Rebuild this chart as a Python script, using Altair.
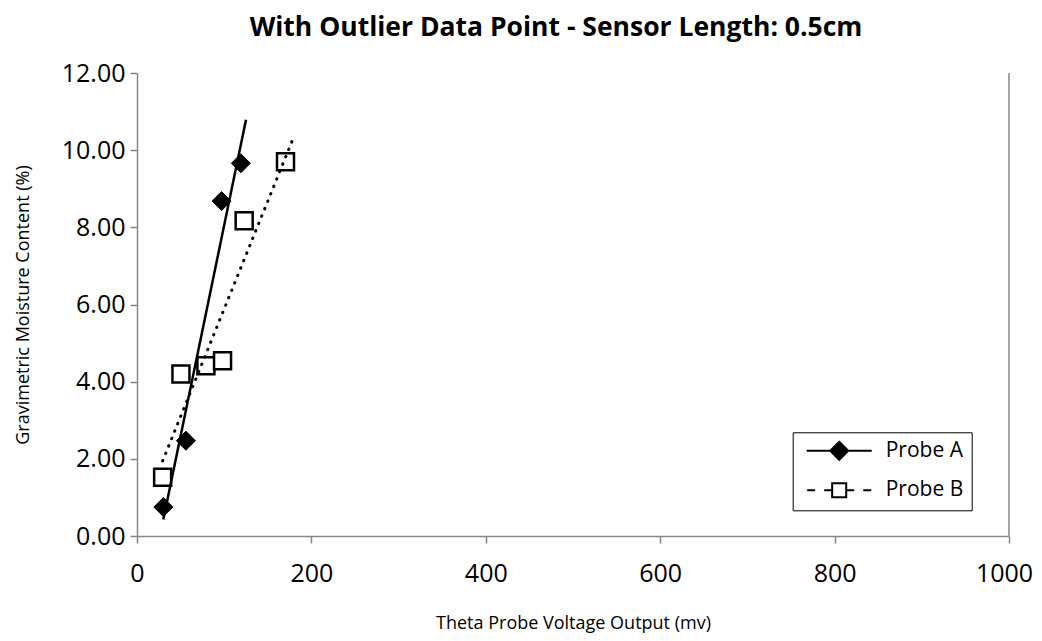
import altair as alt
import pandas as pd

# ---- data ----
probe_names = ["Probe A", "Probe B"]
probe_a_voltage = [30.2, 56.1, 97.0, 119.1]
probe_a_moisture = [0.75, 2.47, 8.68, 9.66]
probe_b_voltage = [29.4, 50.4, 79.0, 98.1, 122.9, 170.3]
probe_b_moisture = [1.52, 4.20, 4.41, 4.54, 8.17, 9.70]
trend_a_extent = [30.2, 125.0]
trend_b_extent = [29.4, 180.0]
x_ticks = [0, 200, 400, 600, 800, 1000]
y_ticks = [0, 2, 4, 6, 8, 10, 12]
x_domain = [0, 1000]
y_domain = [0, 12]

df = pd.concat([
    pd.DataFrame({"voltage": probe_a_voltage, "moisture": probe_a_moisture, "probe": probe_names[0]}),
    pd.DataFrame({"voltage": probe_b_voltage, "moisture": probe_b_moisture, "probe": probe_names[1]}),
], ignore_index=True)

FONT = "Open Sans"
GRAY = "#868686"

# legend symbols: line + marker (custom SVG paths, unit = symbol radius)
path_a = "M-0.5,0H6.72M3.11,-1L4.11,0L3.11,1L2.11,0Z"
path_b = ("M-0.45,0H0.44M1.44,0H2.33M3.89,0H4.78M5.78,0H6.67"
          "M2.33,-0.78H3.89V0.78H2.33Z")

x_enc = alt.X("voltage:Q",
              scale=alt.Scale(domain=x_domain, nice=False, zero=False),
              axis=alt.Axis(values=x_ticks, format="d", labelFlush=False,
                            labelOffset={"condition": {"test": "datum.value == 1000", "value": -5}, "value": 0},
                            title="Theta Probe Voltage Output (mv)",
                            labelPadding=18, titlePadding=28, tickSize=7))
y_enc = alt.Y("moisture:Q",
              scale=alt.Scale(domain=y_domain, nice=False, zero=False),
              axis=alt.Axis(values=y_ticks, format=".2f", labelFlush=False,
                            title="Gravimetric Moisture Content (%)",
                            labelPadding=5, titlePadding=29, tickSize=7))

base = alt.Chart(df)
is_a = alt.datum.probe == probe_names[0]
is_b = alt.datum.probe == probe_names[1]

pts_a = base.transform_filter(is_a).mark_point(
    shape="diamond", filled=True, fill="black", stroke="black",
    strokeWidth=1, size=361, opacity=1).encode(x=x_enc, y=y_enc)

pts_b = base.transform_filter(is_b).mark_point(
    shape="square", filled=True, fill="white", stroke="black",
    strokeWidth=2.5, size=289, opacity=1).encode(x=x_enc, y=y_enc)

line_a = base.transform_filter(is_a).transform_regression(
    "voltage", "moisture", extent=trend_a_extent
).mark_line(color="black", strokeWidth=2.5).encode(x=x_enc, y=y_enc)

line_b = base.transform_filter(is_b).transform_regression(
    "voltage", "moisture", extent=trend_b_extent
).mark_line(color="black", strokeWidth=3, strokeDash=[0.5, 7.5],
            strokeCap="round").encode(x=x_enc, y=y_enc)

right_edge = alt.Chart(pd.DataFrame({"voltage": [x_domain[1]]})).mark_rule(
    color=GRAY, strokeWidth=1.5
).encode(x=x_enc, y=alt.datum(y_domain[0]), y2=alt.datum(y_domain[1]))

leg = alt.Legend(
    title=None, orient="none", legendX=655.7, legendY=359.3,
    padding=8, symbolSize=324, symbolStrokeWidth=2,
    symbolStrokeColor="black",
    labelFont=FONT, labelFontSize=21, labelColor="black",
    labelOffset=64, rowPadding=14.5, strokeColor="black", fillColor="white")

legend_layer = base.transform_filter("false").mark_point(
    filled=True, opacity=1, strokeWidth=2
).encode(
    x=x_enc, y=y_enc,
    shape=alt.Shape("probe:N", scale=alt.Scale(domain=probe_names, range=[path_a, path_b]), legend=leg),
    fill=alt.Fill("probe:N", scale=alt.Scale(domain=probe_names, range=["black", "white"]), legend=leg),
    stroke=alt.Stroke("probe:N", scale=alt.Scale(domain=probe_names, range=["black", "black"]), legend=leg),
)

chart = alt.layer(pts_a, pts_b, line_a, line_b, right_edge, legend_layer).properties(
    width=872, height=463,
    autosize=alt.AutoSizeParams(type="none"),
    padding={"left": 129, "top": 65, "right": 25, "bottom": 97},
    title=alt.Title("With Outlier Data Point - Sensor Length: 0.5cm",
                    font=FONT, fontSize=26.5, fontWeight="bold", color="black",
                    anchor="middle", dx=-17, offset=20),
).configure_view(stroke=None).configure_axis(
    grid=False, domainColor=GRAY, tickColor=GRAY, domainWidth=1.5, tickWidth=1.5,
    labelFont=FONT, labelFontSize=25, labelColor="black",
    titleFont=FONT, titleFontSize=18, titleFontWeight="normal", titleColor="black",
)

chart.save("out.html", embed_options={"renderer": "svg", "actions": False})
